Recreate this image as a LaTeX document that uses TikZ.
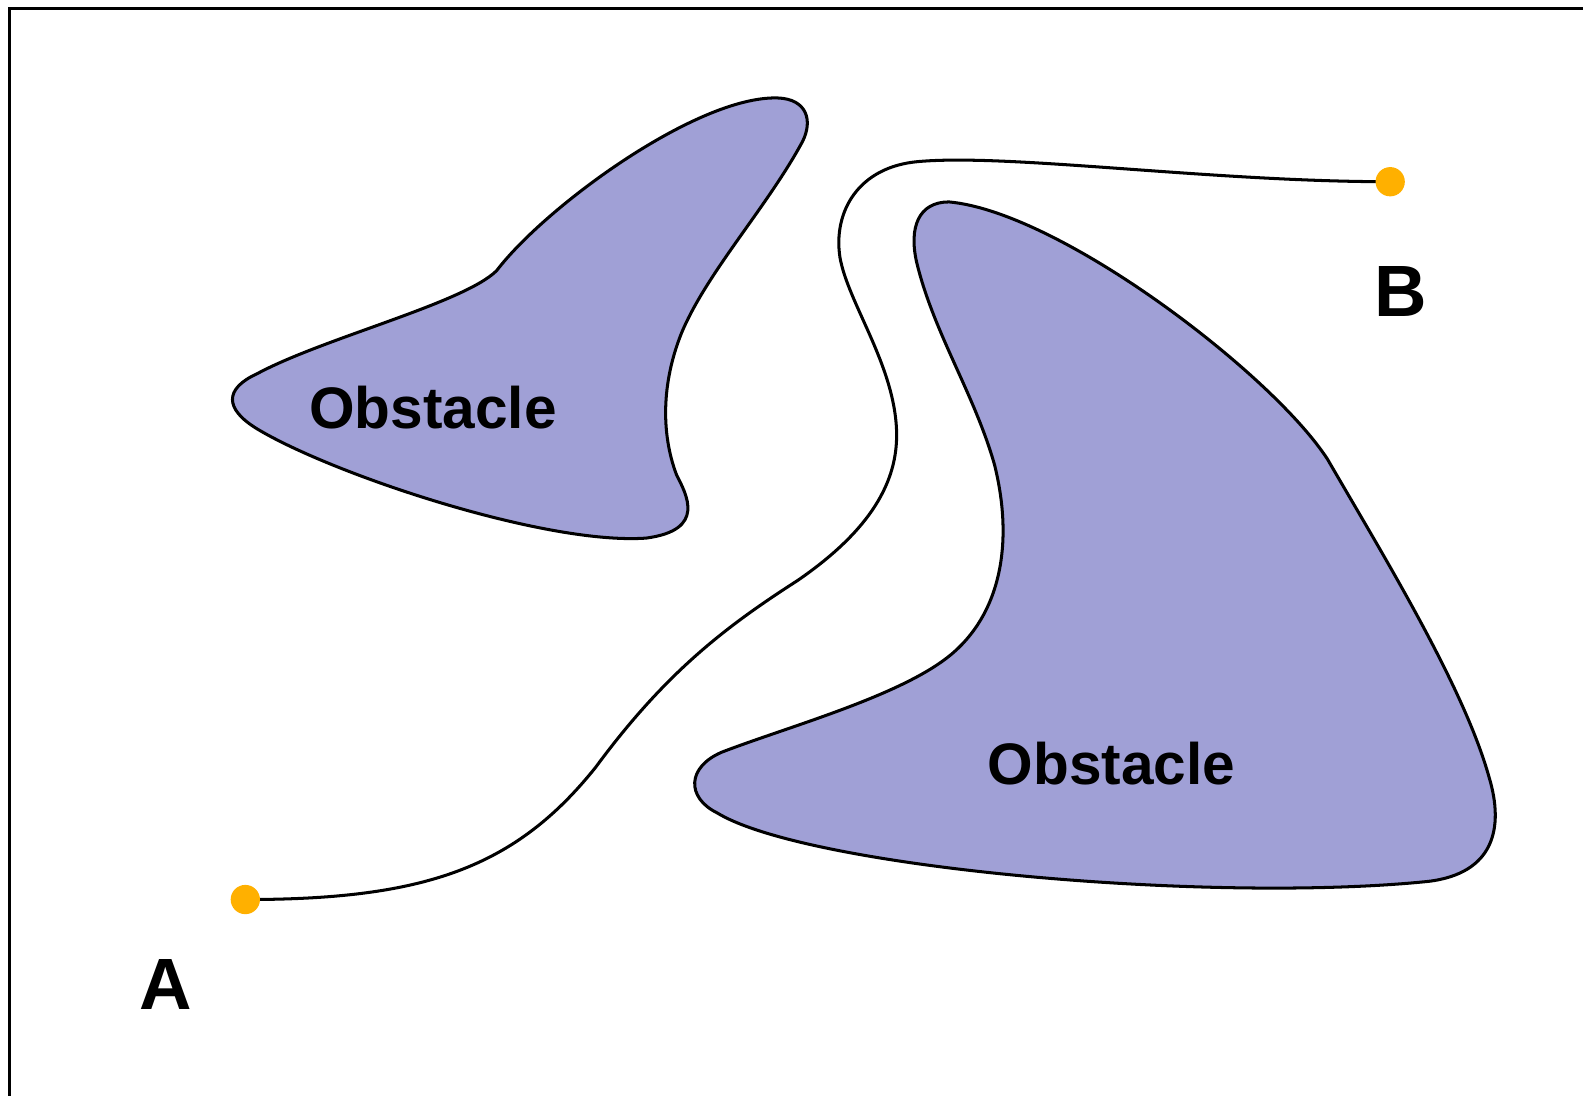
\documentclass[tikz,border=0pt]{standalone}
\usepackage{fontspec}
\setmainfont{Liberation Sans}
\definecolor{obst}{RGB}{160,160,214}
\definecolor{dotc}{RGB}{255,176,0}
\begin{document}
\begin{tikzpicture}[x=1pt,y=-1pt,
  obstacle/.style={draw=black,line width=3pt,fill=obst},
  route/.style={draw=black,line width=3pt},
  pointdot/.style={circle,fill=dotc,draw=none,minimum size=29pt,inner sep=0pt},
  obstlabel/.style={anchor=base,inner sep=0pt,font=\bfseries\fontsize{58}{60}\selectfont},
  ptlabel/.style={anchor=base,inner sep=0pt,font=\bfseries\fontsize{72}{74}\selectfont}]
\useasboundingbox (0,0) rectangle (1568,1085);
\clip (0,0) rectangle (1568,1085);
\fill[white] (0,0) rectangle (1568,1085);
\draw[line width=3.5pt] (9.5,8.5) rectangle (1620,1140);
% obstacle 1
\path[obstacle] (492,268) .. controls (540,205) and (690,95) .. (770,97)
  .. controls (800,98) and (805,120) .. (795,140)
  .. controls (760,205) and (700,270) .. (675,330)
  .. controls (655,380) and (655,430) .. (670,470)
  .. controls (680,490) and (700,525) .. (640,533)
  .. controls (540,540) and (330,470) .. (255,425)
  .. controls (222,405) and (222,385) .. (255,370)
  .. controls (320,335) and (460,300) .. (492,268) -- cycle;
% obstacle 2
\path[obstacle] (940,200) .. controls (910,200) and (900,225) .. (908,260)
  .. controls (925,330) and (965,390) .. (985,460)
  .. controls (1005,540) and (990,610) .. (940,650)
  .. controls (890,690) and (780,720) .. (715,745)
  .. controls (680,760) and (680,790) .. (710,805)
  .. controls (800,860) and (1200,895) .. (1415,873)
  .. controls (1480,865) and (1490,820) .. (1475,770)
  .. controls (1450,680) and (1370,550) .. (1315,455)
  .. controls (1260,370) and (1050,210) .. (940,200) -- cycle;
% route
\coordinate (a) at (243,891);
\coordinate (b) at (1377,180);
\path[route] (a) .. controls (420,891) and (510,860) .. (590,760)
  .. controls (660,665) and (720,620) .. (790,575)
  .. controls (870,520) and (890,470) .. (888,425)
  .. controls (885,360) and (840,300) .. (832,255)
  .. controls (825,210) and (850,165) .. (910,160)
  .. controls (1000,152) and (1200,180) .. (b);
\node[pointdot] (pa) at (a) {};
\node[pointdot] (pb) at (b) {};
\node[obstlabel] (o1) at (429,424) {Obstacle};
\node[obstlabel] (o2) at (1101,777) {Obstacle};
\node[ptlabel] (la) at (164,1000) {A};
\node[ptlabel] (lb) at (1387,313) {B};
\end{tikzpicture}
\end{document}
